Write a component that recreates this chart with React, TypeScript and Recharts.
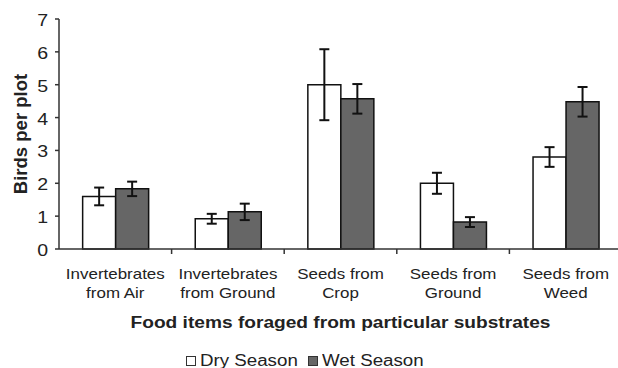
import React from "react";
import { Bar, BarChart, ErrorBar, XAxis, YAxis } from "recharts";

const categories = [
  "Invertebrates\nfrom Air",
  "Invertebrates\nfrom Ground",
  "Seeds from\nCrop",
  "Seeds from\nGround",
  "Seeds from\nWeed",
];
const drySeason = [1.6, 0.92, 5.0, 2.0, 2.8];
const dryError = [0.27, 0.15, 1.08, 0.32, 0.3];
const wetSeason = [1.83, 1.13, 4.57, 0.82, 4.48];
const wetError = [0.22, 0.25, 0.45, 0.15, 0.45];
const yTicks = [0, 1, 2, 3, 4, 5, 6, 7];

const FONT = '"Liberation Sans", Arial, sans-serif';
const TEXT = "#222";
const AXIS = "#333";
const WET = "#666";

const data = categories.map((name, i) => ({
  name,
  dry: drySeason[i],
  dryErr: dryError[i],
  wet: wetSeason[i],
  wetErr: wetError[i],
}));

// labels sit under the bars, tick marks sit between categories
function CategoryTick(props: any) {
  const { x, y, payload, width, visibleTicksCount } = props;
  const lines = String(payload.value).split("\n");
  const idx = props.index ?? payload.index ?? 0;
  const half = payload.offset || width / (visibleTicksCount || categories.length) / 2;
  return (
    <g>
      {idx > 0 && (
        <line x1={x - half} x2={x - half} y1={y} y2={y + 5} stroke={AXIS} strokeWidth={1.5} />
      )}
      <g transform={`translate(${x},${y}) scale(1.13,1)`}>
        <text textAnchor="middle" fontSize={15} fill={TEXT} fontFamily={FONT}>
          {lines.map((line, i) => (
            <tspan key={i} x={0} y={30 + i * 19}>
              {line}
            </tspan>
          ))}
        </text>
      </g>
    </g>
  );
}

function ValueTick({ x, y, payload }: any) {
  return (
    <g transform={`translate(${x},${y}) scale(1.15,1)`}>
      <text textAnchor="end" y={7} fontSize={17} fill={TEXT} fontFamily={FONT}>
        {payload.value}
      </text>
    </g>
  );
}

function YTitle({ viewBox }: any) {
  const cx = viewBox.x + 20;
  const cy = viewBox.y + viewBox.height / 2;
  return (
    <text
      x={cx}
      y={cy}
      transform={`rotate(-90 ${cx} ${cy})`}
      textAnchor="middle"
      dominantBaseline="central"
      fontSize={18.5}
      fontWeight="bold"
      fill={TEXT}
      fontFamily={FONT}
    >
      Birds per plot
    </text>
  );
}

function XTitle({ viewBox }: any) {
  const cx = viewBox.x + viewBox.width / 2;
  const cy = viewBox.y + 79;
  return (
    <g transform={`translate(${cx},${cy}) scale(1.16,1)`}>
      <text textAnchor="middle" fontSize={16.5} fontWeight="bold" fill={TEXT} fontFamily={FONT}>
        Food items foraged from particular substrates
      </text>
    </g>
  );
}

function LegendItem({ fill, label }: { fill: string; label: string }) {
  return (
    <span style={{ display: "inline-flex", alignItems: "center", marginRight: 24 }}>
      <span
        style={{
          width: 8,
          height: 8,
          background: fill,
          border: `1.5px solid ${AXIS}`,
          marginRight: 4,
        }}
      />
      <span style={{ display: "inline-block", transform: "scaleX(1.17)", transformOrigin: "left" }}>{label}</span>
    </span>
  );
}

export default function App() {
  return (
    <div
      style={{
        position: "absolute",
        left: 0,
        top: 0,
        width: 618,
        height: 368,
        overflow: "hidden",
        background: "#fff",
      }}
    >
      <BarChart
        width={622}
        height={368}
        data={data}
        margin={{ top: 19, right: 0, left: 0, bottom: 0 }}
        barCategoryGap="21%"
        barGap={0}
      >
        <XAxis
          dataKey="name"
          interval={0}
          tick={<CategoryTick />}
          tickLine={false}
          tickSize={0}
          tickMargin={0}
          axisLine={{ stroke: AXIS, strokeWidth: 1.5 }}
          height={119}
          label={<XTitle />}
        />
        <YAxis
          domain={[0, 7]}
          ticks={yTicks}
          interval={0}
          width={59}
          tick={<ValueTick />}
          tickSize={4}
          tickMargin={7}
          tickLine={{ stroke: AXIS, strokeWidth: 1.5 }}
          axisLine={{ stroke: AXIS, strokeWidth: 1.5 }}
          label={<YTitle />}
        />
        <Bar dataKey="dry" fill="#fff" stroke="#111" strokeWidth={1.5} isAnimationActive={false}>
          <ErrorBar dataKey="dryErr" width={5} stroke="#111" strokeWidth={2} direction="y" />
        </Bar>
        <Bar dataKey="wet" fill={WET} stroke="#111" strokeWidth={1.5} isAnimationActive={false}>
          <ErrorBar dataKey="wetErr" width={5} stroke="#111" strokeWidth={2} direction="y" />
        </Bar>
      </BarChart>
      <div
        style={{
          position: "absolute",
          left: 186,
          top: 351,
          fontSize: 16,
          lineHeight: "20px",
          color: TEXT,
          fontFamily: FONT,
          whiteSpace: "nowrap",
          display: "flex",
        }}
      >
        <LegendItem fill="#fff" label="Dry Season" />
        <LegendItem fill={WET} label="Wet Season" />
      </div>
    </div>
  );
}
